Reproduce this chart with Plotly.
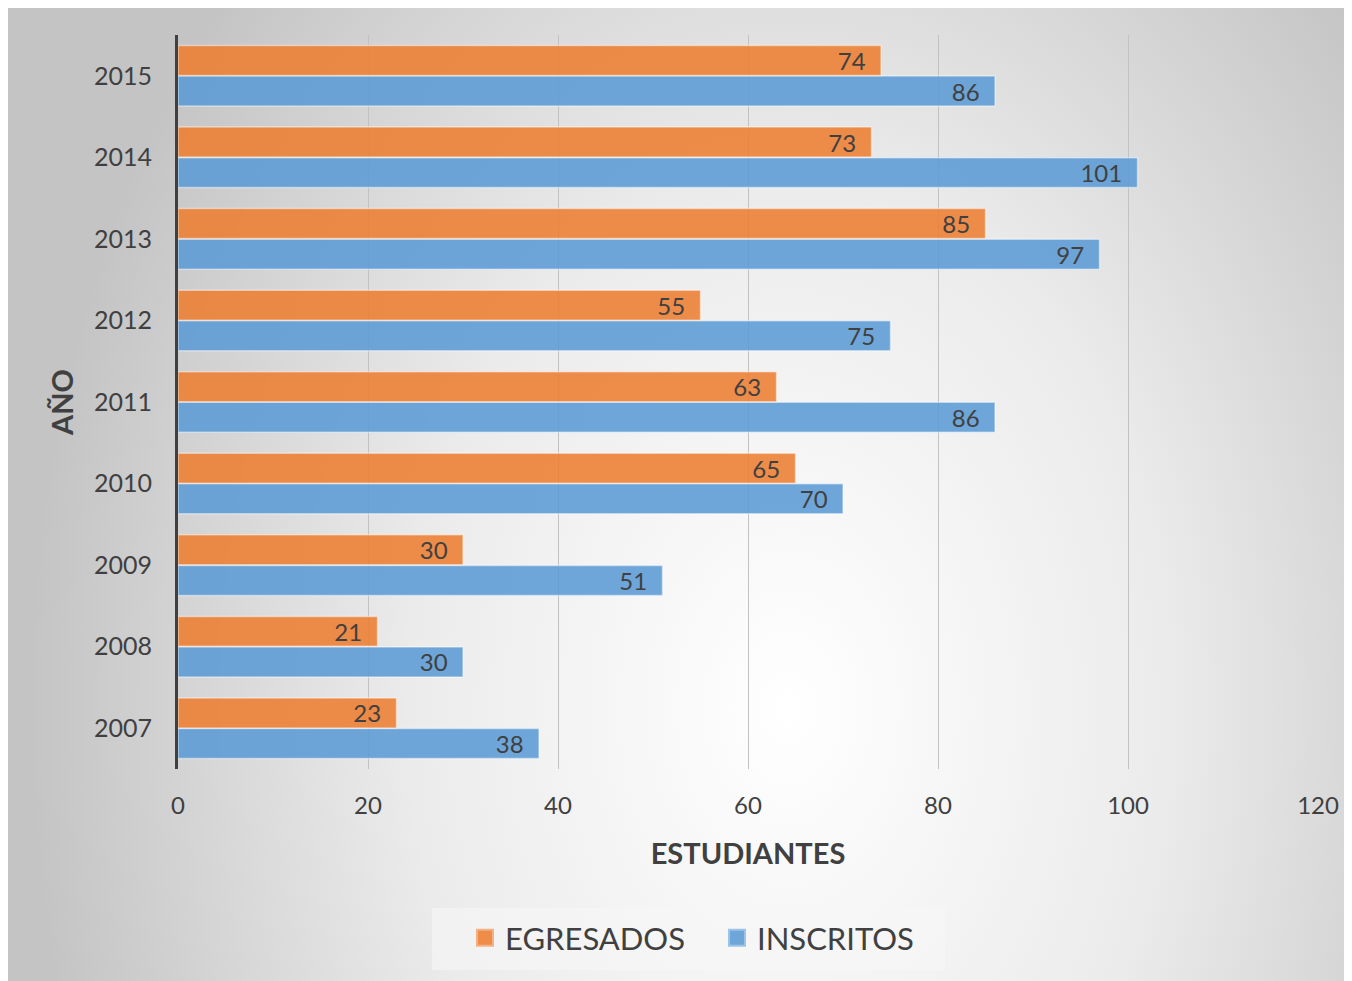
import base64
import plotly.graph_objects as go

years = ["2007", "2008", "2009", "2010", "2011", "2012", "2013", "2014", "2015"]
egresados = [23, 21, 30, 65, 63, 55, 85, 73, 74]
inscritos = [38, 30, 51, 70, 86, 75, 97, 101, 86]
x_ticks = [0, 20, 40, 60, 80, 100, 120]

W, H = 1344, 973
L, R, T, B = 170, 34, 27, 212
PW, PH = W - L - R, H - T - B
BOT = H - B

TXT = "#404040"
FONT = "Lato"
ORANGE = "rgba(237,125,49,0.88)"
BLUE = "rgba(91,155,213,0.88)"

svg = f'''<svg xmlns="http://www.w3.org/2000/svg" width="{W}" height="{H}" viewBox="0 0 {W} {H}">
<defs><radialGradient id="g" gradientUnits="userSpaceOnUse" cx="780" cy="700" r="760"
 gradientTransform="translate(780 700) scale(1 1.4) translate(-780 -700)">
<stop offset="0" stop-color="#ffffff"/><stop offset="0.5" stop-color="#ebebeb"/>
<stop offset="1" stop-color="#c4c4c4"/></radialGradient></defs>
<rect width="{W}" height="{H}" fill="url(#g)"/></svg>'''
src = "data:image/svg+xml;base64," + base64.b64encode(svg.encode()).decode()

fig = go.Figure()
fig.add_trace(go.Bar(
    y=years, x=inscritos, name="INSCRITOS", orientation="h",
    marker=dict(color=BLUE, line=dict(color="rgba(255,255,255,0.45)", width=1.5)),
    texttemplate="%{x}\u00a0\u00a0", textposition="inside", insidetextanchor="end",
    textfont=dict(color=TXT, size=24, family=FONT), constraintext="none",
    showlegend=False, hoverinfo="x+name"))
fig.add_trace(go.Bar(
    y=years, x=egresados, name="EGRESADOS", orientation="h",
    marker=dict(color=ORANGE, line=dict(color="rgba(255,255,255,0.45)", width=1.5)),
    texttemplate="%{x}\u00a0\u00a0", textposition="inside", insidetextanchor="end",
    textfont=dict(color=TXT, size=24, family=FONT), constraintext="none",
    showlegend=False, hoverinfo="x+name"))

# legend entries
for name, col, edge in [("EGRESADOS", ORANGE, "rgba(244,177,131,1)"),
                        ("INSCRITOS", BLUE, "rgba(157,195,230,1)")]:
    fig.add_trace(go.Scatter(
        x=[None], y=[None], mode="markers", name=name,
        marker=dict(symbol="square", size=20, color=col,
                    line=dict(color=edge, width=2)),
        showlegend=True))

fig.update_layout(
    width=W, height=H,
    margin=dict(l=L, r=R, t=T, b=B, autoexpand=False),
    paper_bgcolor="white", plot_bgcolor="rgba(0,0,0,0)",
    barmode="group", bargap=0.25, bargroupgap=0.02,
    font=dict(family=FONT, color=TXT),
    images=[dict(source=src, xref="paper", yref="paper",
                 x=-L / PW, y=BOT / PH, sizex=W / PW, sizey=H / PH,
                 xanchor="left", yanchor="top", sizing="stretch", layer="below")],
    shapes=[dict(type="rect", xref="paper", yref="paper", layer="below",
                 x0=(424 - L) / PW, x1=(937 - L) / PW,
                 y0=(BOT - 962) / PH, y1=(BOT - 900) / PH,
                 fillcolor="rgba(246,246,246,0.6)", line=dict(width=0))],
    legend=dict(orientation="h", x=(709 - L) / PW, xanchor="center",
                y=(BOT - 930) / PH, yanchor="middle",
                bgcolor="rgba(0,0,0,0)", font=dict(size=31, color=TXT, family=FONT),
                itemsizing="trace", traceorder="normal",
                entrywidth=207, entrywidthmode="pixels"),
    showlegend=True,
)
fig.update_xaxes(
    range=[0, 120], tickvals=x_ticks, showgrid=True, gridcolor="#c2c2c2", gridwidth=1,
    zeroline=False, showline=False,
    ticks="outside", ticklen=15, tickcolor="rgba(0,0,0,0)",
    tickfont=dict(size=24, color=TXT, family=FONT),
    title=dict(text="<b>ESTUDIANTES</b>", font=dict(size=29, color=TXT, family=FONT), standoff=25),
)
fig.update_yaxes(
    type="category", categoryorder="array", categoryarray=years,
    showgrid=False, zeroline=False, showline=True, linecolor="#404040", linewidth=3,
    ticks="outside", ticklen=18, tickcolor="rgba(0,0,0,0)",
    tickfont=dict(size=25, color=TXT, family=FONT),
    title=dict(text="<b>AÑO</b>", font=dict(size=29, color=TXT, family=FONT), standoff=12),
)

fig.write_html("out.html")
